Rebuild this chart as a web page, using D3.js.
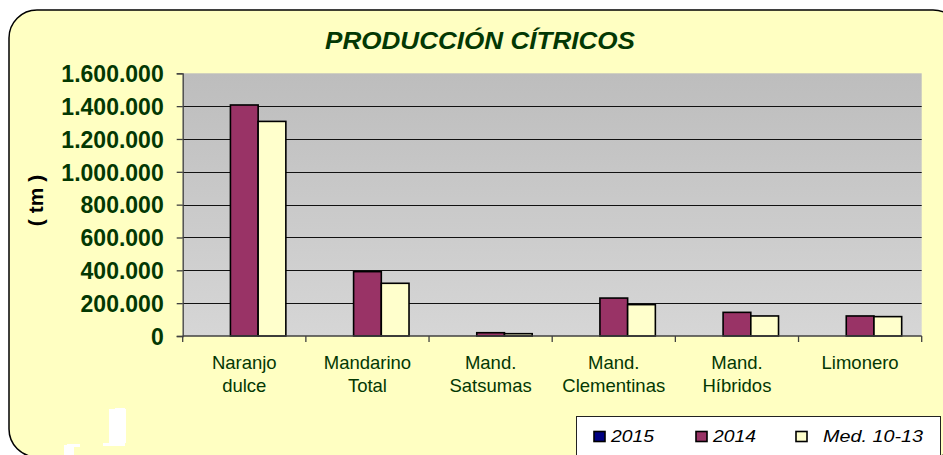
<!DOCTYPE html>
<html>
<head>
<meta charset="utf-8">
<script src="https://cdn.jsdelivr.net/npm/d3@7"></script>
<style>
  html, body { margin: 0; padding: 0; background: #ffffff; }
  svg { display: block; }
</style>
</head>
<body>
<svg id="chart" width="943" height="455"></svg>
<script>
const categories = [["Naranjo", "dulce"], ["Mandarino", "Total"], ["Mand.", "Satsumas"], ["Mand.", "Clementinas"], ["Mand.", "Híbridos"], ["Limonero"]];
const seriesNames = ["2015", "2014", "Med. 10-13"];
const values2015 = [0, 0, 0, 0, 0, 0];
const values2014 = [1407000, 392000, 20000, 231000, 144000, 122000];
const valuesMed = [1307000, 321000, 14000, 191000, 122000, 118000];
const yTicks = [0, 200000, 400000, 600000, 800000, 1000000, 1200000, 1400000, 1600000];

const seriesColors = ["#000080", "#993366", "#FFFFCC"];
const textColor = "#033803";

const svg = d3.select("#chart");

// frame
svg.append("rect")
   .attr("x", 9)
   .attr("y", 10)
   .attr("width", 952)
   .attr("height", 447)
   .attr("rx", 28)
   .attr("fill", "#FFFFC2")
   .attr("stroke", "#000")
   .attr("stroke-width", 1.5);

// a few white specks at the bottom left of the original
svg.append("g").attr("fill", "#fff")
   .selectAll("rect")
   .data([[109, 409, 17, 34], [115, 408, 10, 2], [103, 443, 22, 3], [67, 444, 13, 3], [64, 445, 10, 10]])
   .enter().append("rect")
   .attr("x", d => d[0]).attr("y", d => d[1]).attr("width", d => d[2]).attr("height", d => d[3]);

const plot = { left: 182.7, right: 921.7, top: 73.3, bottom: 336 };

const xScale = d3.scaleBand().domain(d3.range(categories.length)).range([plot.left, plot.right]);
const bw = xScale.bandwidth();
const gap = bw * 0.325;
const xSeries = d3.scaleBand().domain(d3.range(seriesNames.length)).range([gap / 2, bw - gap / 2]);
const yScale = d3.scaleLinear().domain([0, 1600000]).range([plot.bottom, plot.top]);

// plot background gradient
const defs = svg.append("defs");
const grad = defs.append("linearGradient")
                 .attr("id", "plotBg")
                 .attr("x1", 0).attr("y1", 0).attr("x2", 0).attr("y2", 1);
grad.append("stop").attr("offset", "0%").attr("stop-color", "#BDBDBD");
grad.append("stop").attr("offset", "100%").attr("stop-color", "#D6D6D6");

svg.append("rect")
   .attr("x", plot.left)
   .attr("y", plot.top)
   .attr("width", plot.right - plot.left)
   .attr("height", plot.bottom - plot.top)
   .attr("fill", "url(#plotBg)");

// gridlines
svg.append("g")
   .selectAll("line")
   .data(yTicks.slice(1, -1))
   .enter().append("line")
   .attr("x1", plot.left).attr("x2", plot.right)
   .attr("y1", d => Math.round(yScale(d)) + 0.5)
   .attr("y2", d => Math.round(yScale(d)) + 0.5)
   .attr("stroke", "#111")
   .attr("stroke-width", 1);

// bars
const seriesValues = [values2015, values2014, valuesMed];
seriesValues.forEach((vals, s) => {
  svg.append("g")
     .attr("class", "series")
     .selectAll("rect")
     .data(vals.map((v, i) => ({ i, v })).filter(d => d.v > 0))
     .enter().append("rect")
     .attr("x", d => xScale(d.i) + xSeries(s))
     .attr("y", d => yScale(d.v))
     .attr("width", xSeries.bandwidth())
     .attr("height", d => yScale(0) - yScale(d.v))
     .attr("fill", seriesColors[s])
     .attr("stroke", "#000")
     .attr("stroke-width", 1.6);
});

// axis - y
const yAxis = svg.append("g")
   .attr("transform", `translate(${plot.left}, 0)`)
   .call(d3.axisLeft(yScale).tickValues(yTicks).tickSize(6).tickPadding(13)
           .tickFormat(d => d3.format(",")(d).replace(/,/g, ".")));
yAxis.select(".domain").attr("stroke", "#404040").attr("stroke-width", 1.3);
yAxis.selectAll(".tick line").attr("stroke", "#404040").attr("stroke-width", 1.3);
yAxis.selectAll(".tick text")
     .attr("fill", textColor)
     .attr("font-family", "'Liberation Sans', Arial, sans-serif")
     .attr("font-weight", "bold")
     .attr("font-size", "23px")
     .attr("dy", "0.36em");

// axis - x
const xAxisG = svg.append("g").attr("transform", `translate(0, ${plot.bottom})`);
xAxisG.append("line")
      .attr("x1", plot.left).attr("x2", plot.right)
      .attr("y1", 0).attr("y2", 0)
      .attr("stroke", "#404040").attr("stroke-width", 1.3);
xAxisG.selectAll(".xtick")
      .data(d3.range(categories.length + 1))
      .enter().append("line")
      .attr("x1", i => plot.left + i * bw).attr("x2", i => plot.left + i * bw)
      .attr("y1", 0).attr("y2", 6)
      .attr("stroke", "#404040").attr("stroke-width", 1.3);

xAxisG.selectAll(".xlabel")
      .data(categories)
      .enter().append("text")
      .attr("text-anchor", "middle")
      .attr("fill", textColor)
      .attr("font-family", "'Liberation Sans', Arial, sans-serif")
      .attr("font-size", "18.5px")
      .each((d, i, nodes) => {
        const t = d3.select(nodes[i]);
        d.forEach((line, k) => {
          t.append("tspan")
           .attr("x", xScale(i) + bw / 2)
           .attr("y", 33.3 + k * 22.4)
           .text(line);
        });
      });

// axis title
svg.append("text")
   .attr("transform", "translate(43, 200.5) rotate(-90)")
   .attr("text-anchor", "middle")
   .attr("fill", "#000")
   .attr("font-family", "'Liberation Sans', Arial, sans-serif")
   .attr("font-weight", "bold")
   .attr("font-size", "21px")
   .attr("xml:space", "preserve")
   .text("( tm )");

// title
svg.append("text")
   .attr("x", 480)
   .attr("y", 49)
   .attr("text-anchor", "middle")
   .attr("fill", textColor)
   .attr("font-family", "'Liberation Sans', Arial, sans-serif")
   .attr("font-weight", "bold")
   .attr("font-style", "italic")
   .attr("font-size", "23.5px")
   .attr("textLength", 310)
   .attr("lengthAdjust", "spacingAndGlyphs")
   .text("PRODUCCIÓN CÍTRICOS");

// legend
const legend = svg.append("g");
legend.append("rect")
      .attr("x", 576.5)
      .attr("y", 416.5)
      .attr("width", 364)
      .attr("height", 50)
      .attr("fill", "#fff")
      .attr("stroke", "#222")
      .attr("stroke-width", 1);

const legendX = [594, 696, 796];
const legendTextX = [611, 713, 823];
const legendTextW = [43, 43, 100];
seriesNames.forEach((name, s) => {
  legend.append("rect")
        .attr("x", legendX[s])
        .attr("y", 431.5)
        .attr("width", 11)
        .attr("height", 10)
        .attr("fill", seriesColors[s])
        .attr("stroke", "#000")
        .attr("stroke-width", 1.6);
  legend.append("text")
        .attr("x", legendTextX[s])
        .attr("y", 441.7)
        .attr("fill", "#000")
        .attr("font-family", "'Liberation Sans', Arial, sans-serif")
        .attr("font-style", "italic")
        .attr("font-size", "17px")
        .attr("textLength", legendTextW[s])
        .attr("lengthAdjust", "spacingAndGlyphs")
        .text(name);
});
</script>
</body>
</html>
